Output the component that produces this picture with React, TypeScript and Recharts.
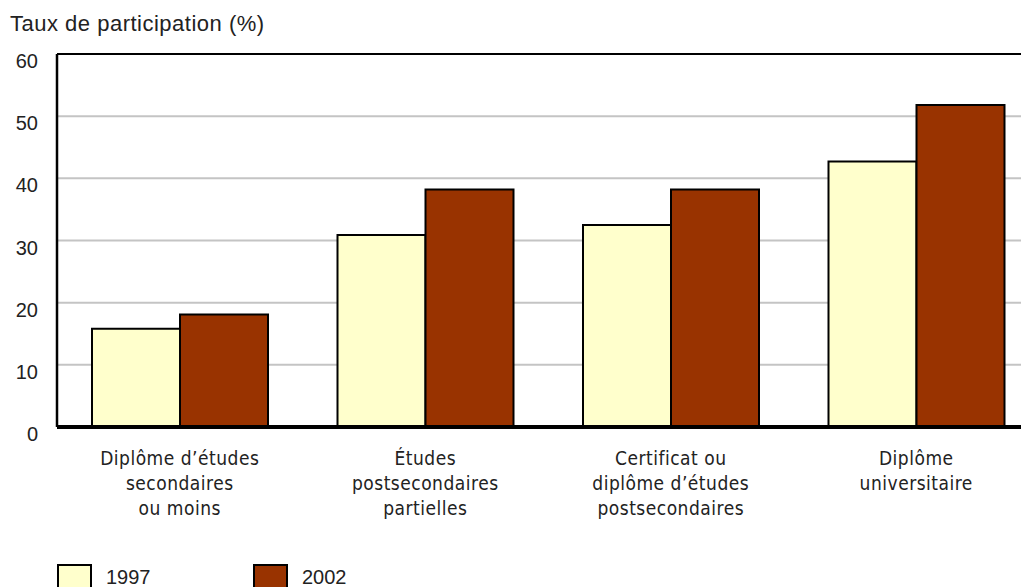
import React from "react";
import { BarChart, Bar, XAxis, YAxis, CartesianGrid, ReferenceLine, Legend } from "recharts";

const categories = [
  "Diplôme d’études\nsecondaires\nou moins",
  "Études\npostsecondaires\npartielles",
  "Certificat ou\ndiplôme d’études\npostsecondaires",
  "Diplôme\nuniversitaire",
];
const values1997 = [15.8, 30.9, 32.5, 42.7];
const values2002 = [18.1, 38.2, 38.2, 51.8];
const yTicks = [0, 10, 20, 30, 40, 50, 60];
const seriesNames = ["1997", "2002"];

const data = categories.map((cat, i) => ({
  cat,
  v1997: values1997[i],
  v2002: values2002[i],
}));

const colors = ["#ffffcc", "#993300"];
const textColor = "#222";
const sansFont = "'Liberation Sans', Arial, sans-serif";
const narrowFont = "'Liberation Sans Narrow', 'Arial Narrow', 'DejaVu Sans Condensed', sans-serif";

const CategoryTick = ({ x, y, payload }: any) => {
  const lines = String(payload.value).split("\n");
  return (
    <text
      x={x}
      y={y}
      textAnchor="middle"
      fill={textColor}
      fontFamily={narrowFont}
      fontSize={19}
      letterSpacing={0.5}
    >
      {lines.map((line, i) => (
        <tspan key={i} x={x} dy={i === 0 ? 30 : 25}>
          {line}
        </tspan>
      ))}
    </text>
  );
};

const ValueTick = ({ x, y, payload }: any) => (
  <text x={x} y={y} dy={14} textAnchor="end" fill={textColor} fontFamily={sansFont} fontSize={20}>
    {payload.value}
  </text>
);

const LegendContent = () => (
  <div style={{ display: "flex", fontFamily: sansFont, fontSize: 20, color: textColor }}>
    {seriesNames.map((name, i) => (
      <div key={name} style={{ display: "flex", alignItems: "flex-start", width: 196 }}>
        <div
          style={{
            width: 31,
            height: 22,
            background: colors[i],
            border: "2px solid #000",
          }}
        />
        <span style={{ marginLeft: 14, lineHeight: "20px", marginTop: 3 }}>{name}</span>
      </div>
    ))}
  </div>
);

export default function App() {
  return (
    <div style={{ width: 1021, height: 579, overflow: "hidden", position: "relative" }}>
      <BarChart
        width={1031}
        height={579}
        data={data}
        margin={{ top: 46, right: 0, left: 0, bottom: 0 }}
        barCategoryGap={35}
        barGap={0}
      >
        <CartesianGrid vertical={false} stroke="#c4c4c4" strokeWidth={2} />
        <XAxis
          dataKey="cat"
          height={160}
          interval={0}
          tickLine={false}
          axisLine={{ stroke: "#000", strokeWidth: 4 }}
          tick={<CategoryTick />}
        />
        <YAxis
          width={49}
          domain={[0, 60]}
          ticks={yTicks}
          tickLine={false}
          tickSize={0}
          tickMargin={19}
          axisLine={{ stroke: "#000", strokeWidth: 2.5 }}
          tick={<ValueTick />}
          label={{
            content: ({ viewBox }: any) => (
              <text
                x={viewBox.x + 2}
                y={viewBox.y - 23}
                fill={textColor}
                fontFamily={sansFont}
                fontSize={22}
                letterSpacing={0.5}
              >
                Taux de participation (%)
              </text>
            ),
          }}
        />
        <ReferenceLine y={60} stroke="#000" strokeWidth={2} />
        <Bar dataKey="v1997" name="1997" fill={colors[0]} stroke="#000" strokeWidth={2} isAnimationActive={false} />
        <Bar dataKey="v2002" name="2002" fill={colors[1]} stroke="#000" strokeWidth={2} isAnimationActive={false} />
        <Legend
          layout="horizontal"
          verticalAlign="middle"
          align="center"
          content={<LegendContent />}
          wrapperStyle={{ left: 49, top: 556, width: 500 }}
        />
      </BarChart>
    </div>
  );
}
